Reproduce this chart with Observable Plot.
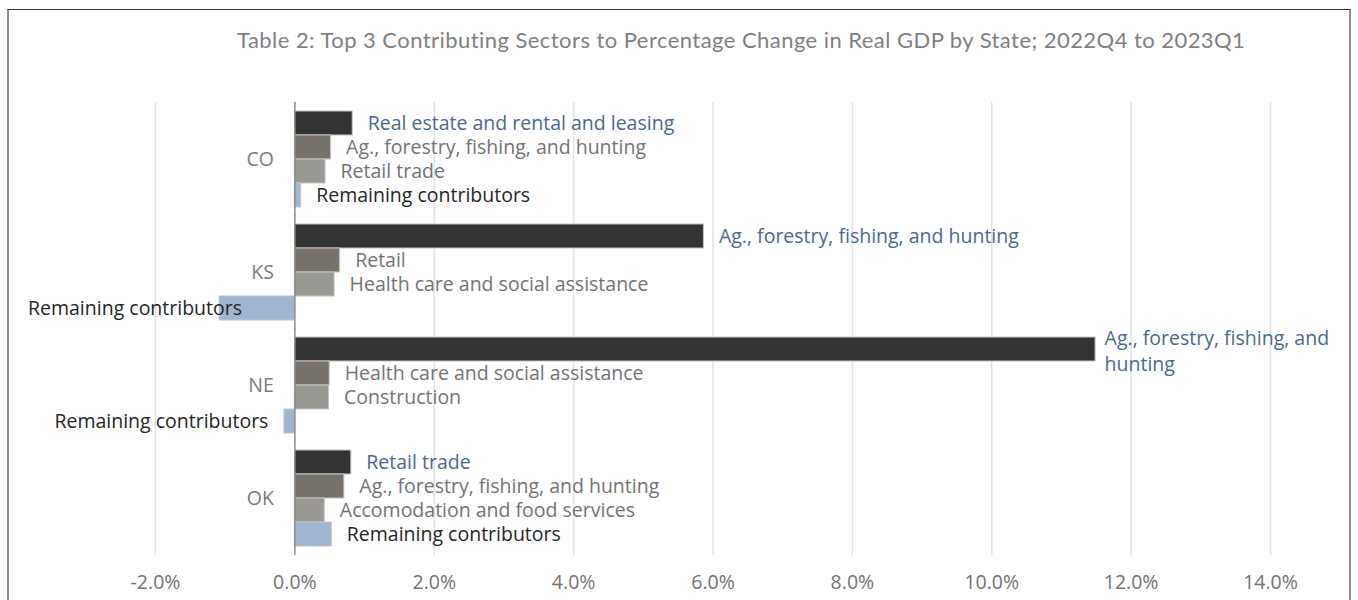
<!DOCTYPE html>
<html><head><meta charset="utf-8">
<script src="https://cdn.jsdelivr.net/npm/d3@7"></script>
<script src="https://cdn.jsdelivr.net/npm/@observablehq/plot@0.6"></script>
<style>
body{margin:0;background:#fff;width:1358px;height:600px;overflow:hidden;position:relative;font-family:Lato, sans-serif}
#frame{position:absolute;left:7px;top:9px;width:1340px;height:620px;border-top:1px solid #333;border-left:2px solid #8c8c8c;border-right:2px solid #8c8c8c;pointer-events:none}
#title{position:absolute;left:237px;top:26px;font-size:22px;letter-spacing:0.45px;line-height:28px;color:#7f7f7f;white-space:nowrap}
#chart{position:absolute;left:0;top:0}
</style></head><body>
<div id="chart"></div>
<div id="title">Table 2: Top 3 Contributing Sectors to Percentage Change in Real GDP by State; 2022Q4 to 2023Q1</div>
<div id="frame"></div>
<script>
const states = ["CO", "KS", "NE", "OK"];
const sectors = [
  ["Real estate and rental and leasing", "Ag., forestry, fishing, and hunting", "Retail trade", "Remaining contributors"],
  ["Ag., forestry, fishing, and hunting", "Retail", "Health care and social assistance", "Remaining contributors"],
  ["Ag., forestry, fishing, and hunting", "Health care and social assistance", "Construction", "Remaining contributors"],
  ["Retail trade", "Ag., forestry, fishing, and hunting", "Accomodation and food services", "Remaining contributors"]
];
const values = [
  [0.83, 0.52, 0.44, 0.09],
  [5.87, 0.65, 0.57, -1.08],
  [11.49, 0.50, 0.49, -0.15],
  [0.81, 0.71, 0.43, 0.53]
];
const ranks = [0, 1, 2, 3];
const barColors = ["#333333", "#77726a", "#9a9892", "#a0b5cf"];
const labelColors = ["#4a6891", "#737373", "#737373", "#262626"];
const xTicks = [-2, 0, 2, 4, 6, 8, 10, 12, 14];

const rows = states.flatMap((s, i) => ranks.map(r => ({state: s, rank: r, sector: sectors[i][r], value: values[i][r]})));

const F = "'Open Sans', sans-serif";
const FS = 19.5;
const plot = Plot.plot({
  width: 1358, height: 600,
  marginLeft: 155, marginRight: 88, marginTop: 102, marginBottom: 45,
  style: {fontFamily: F, fontSize: FS + "px", background: "transparent"},
  x: {domain: [-2, 14], axis: null},
  y: {domain: ranks, padding: 0, axis: null},
  fy: {domain: states, paddingInner: 0.153, paddingOuter: 0.076, axis: null},
  color: {type: "identity"},
  marks: [
    Plot.ruleX(xTicks.filter(t => t !== 0), {stroke: "#e3e3e3", strokeWidth: 1.5, insetTop: -9, insetBottom: -9}),
    Plot.barX(rows, {fy: "state", y: "rank", x: "value", fill: d => barColors[d.rank], stroke: "#c4c4c4", strokeWidth: 1}),
    Plot.ruleX([0], {stroke: "#8c8c8c", strokeWidth: 1.5, insetTop: -9, insetBottom: -9}),
    Plot.text(rows.filter(d => d.value >= 0 && d.value <= 10), {fy: "state", y: "rank", x: "value", text: "sector", textAnchor: "start", dx: 15, fill: d => labelColors[d.rank], fontSize: FS}),
    Plot.text(rows.filter(d => d.value > 10), {fy: "state", y: "rank", x: "value", text: "sector", textAnchor: "start", dx: 9, lineWidth: 15, lineHeight: 1.33, fill: d => labelColors[d.rank], fontSize: FS}),
    Plot.text(rows.filter(d => d.value < 0), {fy: "state", y: "rank", x: "value", text: "sector", textAnchor: "end", dx: -16, fill: d => labelColors[d.rank], fontSize: FS, ariaDescription: "neg-labels"}),
    Plot.text(states, {fy: d => d, x: () => 0, text: d => d, textAnchor: "end", dx: -21, fill: "#7a7a7a", fontSize: FS}),
    Plot.axisX(xTicks, {tickSize: 0, tickPadding: 29, tickFormat: d => d.toFixed(1) + "%", fill: "#737373", fontSize: FS, label: null})
  ]
});
document.getElementById("chart").appendChild(plot);

// keep labels inside the chart area (as the spreadsheet does)
const svgLeft = plot.getBoundingClientRect().left;
plot.querySelectorAll('g[aria-description="neg-labels"] text').forEach(t => {
  const r = t.getBoundingClientRect();
  if (r.left - svgLeft < 28) {
    t.setAttribute("transform", (t.getAttribute("transform") || "") + ` translate(${28 - (r.left - svgLeft)},0)`);
  }
});
</script>
</body></html>
